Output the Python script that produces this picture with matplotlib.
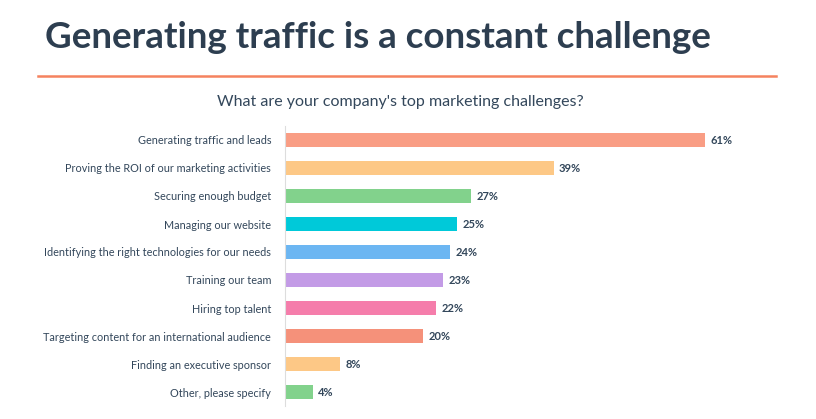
import matplotlib.pyplot as plt

categories = ["Generating traffic and leads", "Proving the ROI of our marketing activities",
              "Securing enough budget", "Managing our website",
              "Identifying the right technologies for our needs", "Training our team",
              "Hiring top talent", "Targeting content for an international audience",
              "Finding an executive sponsor", "Other, please specify"]
values = [61, 39, 27, 25, 24, 23, 22, 20, 8, 4]
colors = ["#f99d84", "#fdc886", "#82d28c", "#00c9d9", "#6cb6f2",
          "#c39be6", "#f57dab", "#f5917a", "#fdc886", "#82d28c"]

W, H = 816, 419
fig = plt.figure(figsize=(W / 100, H / 100), dpi=100)
fig.patch.set_facecolor("white")

fig.text(45 / W, 1 - 38 / H, "Generating traffic is a constant challenge", fontsize=26.5,
         fontweight="bold", color="#2d3e50", va="center", ha="left", family="Lato")
fig.add_artist(plt.Line2D([38 / W, 776 / W], [1 - 76 / H] * 2, color="#f5825f", lw=1.8))
fig.text(400 / W, 1 - 102 / H, "What are your company's top marketing challenges?",
         fontsize=11.5, color="#33475b", ha="center", va="center", family="Lato")

ax = fig.add_axes([285 / W, 13 / H, 482 / W, 280 / H])
y = list(range(len(values)))
ax.barh(y, values, color=colors, height=0.5)
ax.set_xlim(0, 70)
ax.set_ylim(len(values) - 0.5, -0.5)
for i, v in enumerate(values):
    ax.text(v + 0.8, i, f"{v}%", va="center", ha="left", fontsize=8,
            fontweight="bold", color="#33475b", family="Lato")
ax.set_yticks(y)
ax.set_yticklabels(categories, fontsize=7.8, color="#33475b", family="Lato")
ax.tick_params(axis="y", length=0, pad=10)
ax.set_xticks([])
for s in ["top", "right", "bottom"]:
    ax.spines[s].set_visible(False)
ax.spines["left"].set_color("#dddddd")

fig.savefig("out.png", dpi=100)
